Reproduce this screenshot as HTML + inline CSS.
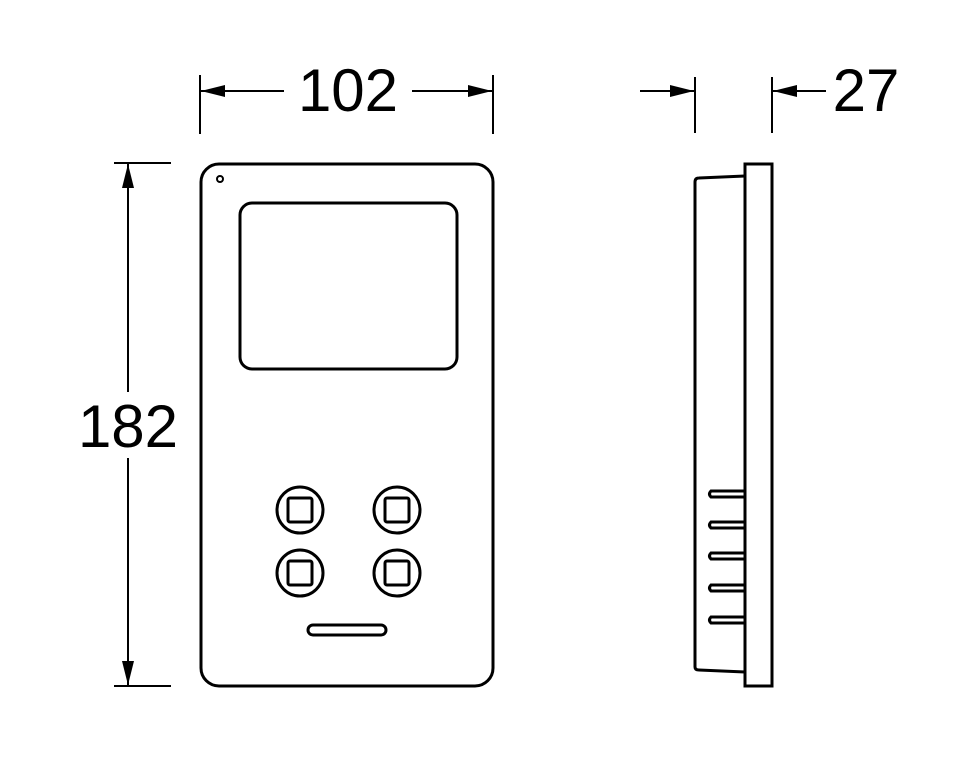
<!DOCTYPE html>
<html><head><style>html,body{margin:0;padding:0;background:#fff;}svg{display:block}</style></head>
<body>
<svg width="953" height="780" viewBox="0 0 953 780" xmlns="http://www.w3.org/2000/svg">
<defs>
<marker id="a" viewBox="0 0 24 12" refX="24" refY="6" markerWidth="24" markerHeight="12" markerUnits="userSpaceOnUse" orient="auto"><path d="M0,0 L24,6 L0,12 Z" fill="#000"/></marker>
</defs>
<g stroke="#000" stroke-width="2" fill="none">
<!-- dimension 102 -->
<line x1="200" y1="75" x2="200" y2="134"/>
<line x1="493" y1="75" x2="493" y2="134"/>
<line x1="284" y1="91" x2="201" y2="91" marker-end="url(#a)"/>
<line x1="412" y1="91" x2="492" y2="91" marker-end="url(#a)"/>
<!-- dimension 27 -->
<line x1="695" y1="77" x2="695" y2="133"/>
<line x1="772" y1="77" x2="772" y2="133"/>
<line x1="640" y1="91" x2="694" y2="91" marker-end="url(#a)"/>
<line x1="826" y1="91" x2="773" y2="91" marker-end="url(#a)"/>
<!-- dimension 182 -->
<line x1="114" y1="163" x2="171" y2="163"/>
<line x1="114" y1="686" x2="171" y2="686"/>
<line x1="128" y1="392" x2="128" y2="164" marker-end="url(#a)"/>
<line x1="128" y1="458" x2="128" y2="685" marker-end="url(#a)"/>
</g>
<g stroke="#000" stroke-width="3" fill="none">
<!-- front -->
<rect x="201" y="164" width="292" height="522" rx="18"/>
<circle cx="220" cy="179" r="3" stroke-width="2"/>
<rect x="240" y="203" width="217" height="166" rx="12"/>
<circle cx="300" cy="510" r="23"/><rect x="288" y="498" width="24" height="24" rx="2"/>
<circle cx="397" cy="510" r="23"/><rect x="385" y="498" width="24" height="24" rx="2"/>
<circle cx="300" cy="573" r="23"/><rect x="288" y="561" width="24" height="24" rx="2"/>
<circle cx="397" cy="573" r="23"/><rect x="385" y="561" width="24" height="24" rx="2"/>
<rect x="308" y="625" width="78" height="10" rx="5"/>
<!-- side -->
<path d="M745,176 L699,178 Q695,178 695,182 L695,667 Q695,670 699,670 L745,672"/>
<rect x="745" y="164" width="27" height="522"/>
<path d="M745,491 L711,491 Q708,494 711,497 L745,497"/>
<path d="M745,522 L711,522 Q708,525 711,528 L745,528"/>
<path d="M745,553 L711,553 Q708,556 711,559 L745,559"/>
<path d="M745,585 L711,585 Q708,588 711,591 L745,591"/>
<path d="M745,617 L711,617 Q708,620 711,623 L745,623"/>
</g>
<g font-family="Liberation Sans, sans-serif" font-size="60" fill="#000">
<text x="348" y="111" text-anchor="middle">102</text>
<text x="866" y="111" text-anchor="middle">27</text>
<text x="128" y="447" text-anchor="middle">182</text>
</g>
</svg>
</body></html>
